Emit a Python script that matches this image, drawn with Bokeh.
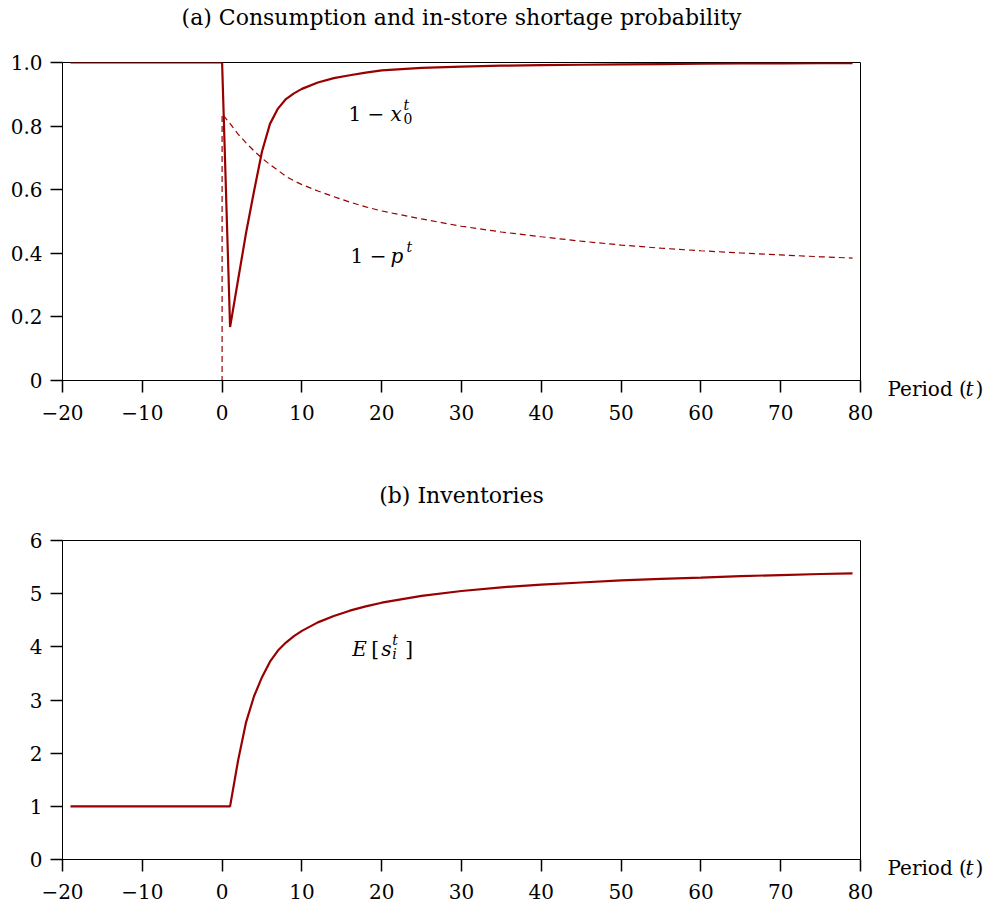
from bokeh.plotting import figure
from bokeh.layouts import column, row
from bokeh.models import Range1d, FixedTicker, Label
from bokeh.embed import file_html
from bokeh.resources import INLINE

# ---------------- data ----------------
x_ticks = [-20, -10, 0, 10, 20, 30, 40, 50, 60, 70, 80]
x_tick_labels = ["\u221220", "\u221210", "0", "10", "20", "30", "40", "50", "60", "70", "80"]

a_y_ticks = [0, 0.2, 0.4, 0.6, 0.8, 1.0]
a_y_tick_labels = ["0", "0.2", "0.4", "0.6", "0.8", "1.0"]

b_y_ticks = [0, 1, 2, 3, 4, 5, 6]
b_y_tick_labels = ["0", "1", "2", "3", "4", "5", "6"]

period_x0 = [-19, 0, 1, 2, 3, 4, 5, 6, 7, 8, 9, 10, 12, 14, 16, 18, 20,
             25, 30, 35, 40, 45, 50, 55, 60, 65, 70, 75, 79]
one_minus_x0 = [1.0, 1.0, 0.168, 0.316, 0.464, 0.595, 0.72, 0.807, 0.855, 0.885,
                0.903, 0.917, 0.937, 0.951, 0.960, 0.968, 0.975,
                0.983, 0.987, 0.990, 0.992, 0.993, 0.994, 0.995, 0.996, 0.997,
                0.997, 0.998, 0.998]

period_p = [-19, 0, 0, 1, 2, 3, 4, 5, 6, 7, 8, 9, 10, 12, 14, 16, 18, 20,
            25, 30, 35, 40, 45, 50, 55, 60, 65, 70, 75, 79]
one_minus_p = [0.0, 0.0, 0.838, 0.808, 0.775, 0.747, 0.722, 0.699, 0.679, 0.661,
               0.642, 0.628, 0.616, 0.596, 0.578, 0.561, 0.546, 0.533,
               0.508, 0.485, 0.467, 0.452, 0.438, 0.426, 0.416, 0.408, 0.401,
               0.395, 0.389, 0.385]

period_s = [-19, 1, 2, 3, 4, 5, 6, 7, 8, 9, 10, 12, 14, 16, 18, 20,
            25, 30, 35, 40, 45, 50, 55, 60, 65, 70, 75, 79]
inventories = [1.0, 1.0, 1.86, 2.58, 3.07, 3.43, 3.72, 3.93, 4.08, 4.2, 4.3,
               4.46, 4.58, 4.68, 4.76, 4.83, 4.96, 5.05, 5.12, 5.17, 5.21,
               5.25, 5.28, 5.30, 5.33, 5.35, 5.37, 5.38]

title_a = "(a) Consumption and in-store shortage probability"
title_b = "(b) Inventories"
x_label_parts = ["Period (", "t", ")"]

RED = "#990000"
FONT = "DejaVu Serif"
W = 997
MAIN_W = 880
SIDE_W = W - MAIN_W
HEAD_H = 40


def blank(width, height):
    s = figure(width=width, height=height, x_range=Range1d(0, width),
               y_range=Range1d(height, 0), output_backend="svg",
               toolbar_location=None, x_axis_location=None, y_axis_location=None,
               min_border=0, min_border_left=0, min_border_right=0,
               min_border_top=0, min_border_bottom=0)
    s.frame_align = False
    s.outline_line_color = None
    s.xgrid.visible = False
    s.ygrid.visible = False
    s.background_fill_color = "white"
    s.border_fill_color = "white"
    return s


def header(text):
    h = blank(W, HEAD_H)
    h.add_layout(Label(x=461, y=17, x_units="data", y_units="data", text=text,
                       text_font=FONT, text_font_size="22px", text_color="black",
                       text_baseline="alphabetic", text_align="center"))
    return h


def side_panel(height, baseline_y):
    # blank strip to the right of a chart, holding the axis caption "Period (t)"
    s = blank(SIDE_W, height)
    offs = [7, 85, 95]
    for txt, off in zip(x_label_parts, offs):
        s.add_layout(Label(x=off, y=baseline_y, x_units="data", y_units="data",
                           text=txt, text_font=FONT, text_font_size="20px",
                           text_font_style="italic" if txt == "t" else "normal",
                           text_color="black", text_baseline="alphabetic",
                           text_align="left"))
    return s


def style(p, yticks, ylabels):
    p.xgrid.visible = False
    p.ygrid.visible = False
    p.outline_line_color = "black"
    p.outline_line_width = 1
    p.background_fill_color = "white"
    p.border_fill_color = "white"
    for ax, ticks, labels in ((p.xaxis[0], x_ticks, x_tick_labels), (p.yaxis[0], yticks, ylabels)):
        ax.ticker = FixedTicker(ticks=ticks, minor_ticks=[])
        ax.major_label_overrides = {k: v for k, v in zip(ticks, labels)}
        ax.major_label_text_font = FONT
        ax.major_label_text_font_size = "20px"
        ax.major_label_text_color = "black"
        ax.axis_line_color = "black"
        ax.axis_line_width = 1
        ax.major_tick_line_color = "black"
        ax.major_tick_line_width = 1.5
        ax.major_tick_out = 12
        ax.major_tick_in = 0
        ax.minor_tick_line_color = None
    p.xaxis.major_label_standoff = 12
    p.yaxis.major_label_standoff = 8


def add_text(p, x, y, pieces):
    for (txt, dx, dy, size, italic) in pieces:
        p.add_layout(Label(x=x, y=y, x_units="data", y_units="data",
                           x_offset=dx, y_offset=dy, text=txt,
                           text_font=FONT, text_font_size=size,
                           text_font_style="italic" if italic else "normal",
                           text_color="black", text_baseline="alphabetic",
                           text_align="left"))


# ---------------- figure (a) ----------------
H1 = 478 - HEAD_H
p1 = figure(width=MAIN_W, height=H1, x_range=Range1d(-20, 80), y_range=Range1d(0, 1),
            output_backend="svg", toolbar_location=None,
            min_border_left=62, min_border_right=MAIN_W - 860,
            min_border_top=62 - HEAD_H, min_border_bottom=478 - 380)
style(p1, a_y_ticks, a_y_tick_labels)
p1.line(period_p, one_minus_p, line_color=RED, line_width=1.2, line_dash="6 4")
p1.line(period_x0, one_minus_x0, line_color=RED, line_width=2.2)

add_text(p1, 15.84, 0.839, [("1 \u2212", 0, 0, "20px", False),
                            ("x", 42, 0, "20px", True),
                            ("t", 55, 9, "14px", True),
                            ("0", 55, -5, "14px", False)])
add_text(p1, 16.1, 0.393, [("1 \u2212", 0, 0, "20px", False),
                           ("p", 40, 0, "20px", True),
                           ("t", 56, 9, "14px", True)])
s1 = side_panel(H1, 388 - HEAD_H)

# ---------------- figure (b) ----------------
H2 = 912 - 478 - HEAD_H
p2 = figure(width=MAIN_W, height=H2, x_range=Range1d(-20, 80), y_range=Range1d(0, 6),
            output_backend="svg", toolbar_location=None,
            min_border_left=62, min_border_right=MAIN_W - 860,
            min_border_top=540 - 478 - HEAD_H, min_border_bottom=912 - 859)
style(p2, b_y_ticks, b_y_tick_labels)
p2.line(period_s, inventories, line_color=RED, line_width=2.2)

add_text(p2, 16.3, 3.96, [("E", 0, 0, "20px", True),
                          ("[", 19, 0, "20px", False),
                          ("s", 29, 0, "20px", True),
                          ("t", 40, 9, "14px", True),
                          ("i", 40, -5, "14px", True),
                          ("]", 53, 0, "20px", False)])
s2 = side_panel(H2, 867 - 478 - HEAD_H)

layout = column(header(title_a), row(p1, s1, spacing=0),
                header(title_b), row(p2, s2, spacing=0), spacing=0)
open("out.html", "w").write(file_html(layout, INLINE))
